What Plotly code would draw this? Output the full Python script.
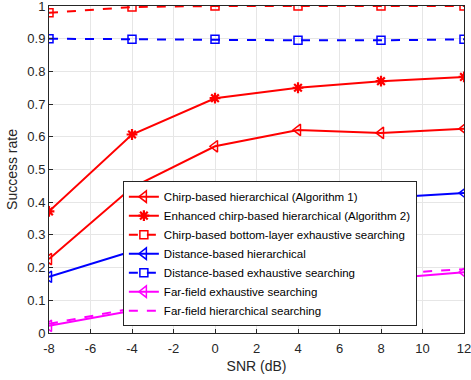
import plotly.graph_objects as go

snr = [-8, -4, 0, 4, 8, 12]
chirp_hier = [0.226, 0.445, 0.571, 0.621, 0.612, 0.625]
enh_chirp_hier = [0.372, 0.607, 0.718, 0.750, 0.770, 0.783]
chirp_bottom_exh = [0.979, 0.997, 1.0, 1.0, 1.0, 1.0]
dist_hier = [0.172, 0.250, 0.310, 0.362, 0.413, 0.428]
dist_exh = [0.900, 0.898, 0.898, 0.895, 0.895, 0.898]
far_exh = [0.022, 0.068, 0.100, 0.132, 0.165, 0.186]
far_hier = [0.028, 0.075, 0.110, 0.145, 0.180, 0.195]

x_ticks = [-8, -6, -4, -2, 0, 2, 4, 6, 8, 10, 12]
x_tick_labels = ["-8", "-6", "-4", "-2", "0", "2", "4", "6", "8", "10", "12"]
y_ticks = [0, 0.1, 0.2, 0.3, 0.4, 0.5, 0.6, 0.7, 0.8, 0.9, 1]
y_tick_labels = ["0", "0.1", "0.2", "0.3", "0.4", "0.5", "0.6", "0.7", "0.8", "0.9", "1"]

RED = "#ff0000"
BLUE = "#0000ff"
MAG = "#ff00ff"
FONT = "Liberation Sans, Arial"

series = [
    ("Chirp-based hierarchical (Algorithm 1)", chirp_hier, RED, "solid", "triangle-left-open", 10),
    ("Enhanced chirp-based hierarchical (Algorithm 2)", enh_chirp_hier, RED, "solid", "asterisk-open", 9),
    ("Chirp-based bottom-layer exhaustive searching", chirp_bottom_exh, RED, "dash", "square-open", 8),
    ("Distance-based hierarchical", dist_hier, BLUE, "solid", "triangle-left-open", 10),
    ("Distance-based exhaustive searching", dist_exh, BLUE, "dash", "square-open", 8),
    ("Far-field exhaustive searching", far_exh, MAG, "solid", "triangle-left-open", 10),
    ("Far-field hierarchical searching", far_hier, MAG, "dash", None, 8),
]

fig = go.Figure()
for name, ys, col, dash, sym, sz in series:
    if sym is None:
        fig.add_trace(go.Scatter(x=snr, y=ys, name=name, mode="lines",
                                 line=dict(color=col, width=2, dash="dash")))
    else:
        fig.add_trace(go.Scatter(x=snr, y=ys, name=name, mode="lines+markers",
                                 line=dict(color=col, width=2, dash=dash),
                                 marker=dict(symbol=sym, size=sz, color=col,
                                             line=dict(color=col, width=2.2 if "asterisk" in sym else 1.5))))

axis_common = dict(showline=True, linecolor="#262626", linewidth=1, mirror=True,
                   showgrid=True, gridcolor="#e6e6e6", gridwidth=1,
                   ticks="inside", ticklen=4, tickcolor="#262626",
                   tickfont=dict(family=FONT, size=13, color="#262626"),
                   ticklabeloverflow="allow", automargin=False,
                   zeroline=False)

fig.update_layout(
    width=471, height=380,
    margin=dict(l=49, r=7, t=6, b=47),
    paper_bgcolor="white", plot_bgcolor="white",
    xaxis=dict(range=[-8, 12], tickvals=x_ticks, ticktext=x_tick_labels,
               ticklabelstandoff=3,
               title=dict(text="SNR (dB)", font=dict(family=FONT, size=14, color="#262626"), standoff=6),
               **axis_common),
    yaxis=dict(range=[0, 1], tickvals=y_ticks, ticktext=y_tick_labels,
               title=dict(text="Success rate", font=dict(family=FONT, size=14, color="#262626"), standoff=6),
               **axis_common),
    legend=dict(x=0.178, y=0.021, xanchor="left", yanchor="bottom",
                bgcolor="white", bordercolor="#262626", borderwidth=1,
                font=dict(family=FONT, size=11.5, color="black"),
                tracegroupgap=0, itemwidth=30),
    showlegend=True,
)

fig.write_html("out.html")
